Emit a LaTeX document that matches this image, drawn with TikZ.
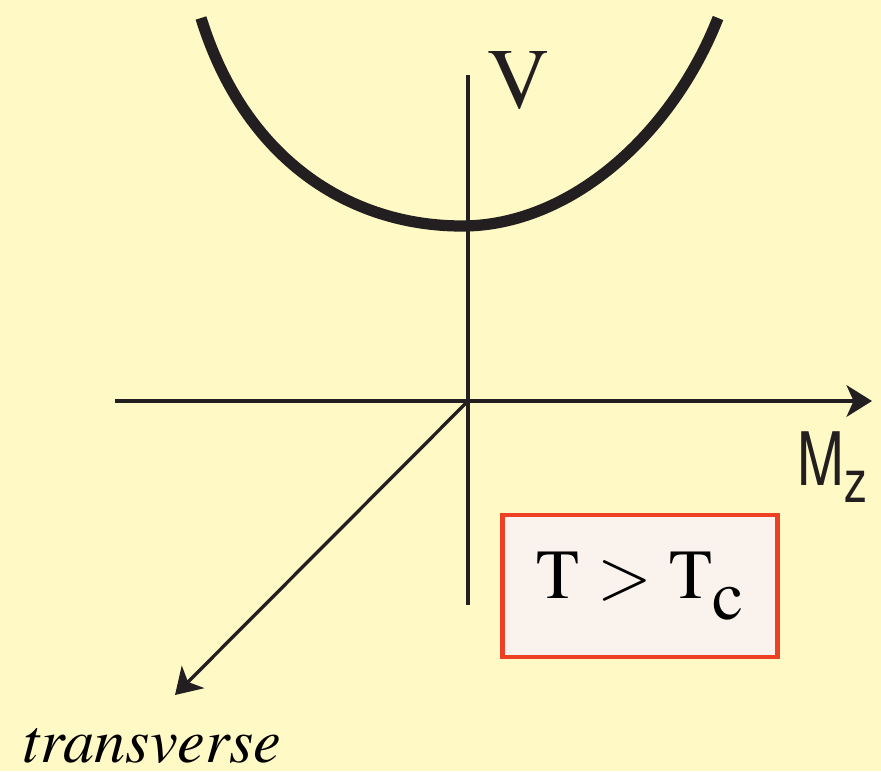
\documentclass[tikz,border=0pt]{standalone}
\usepackage[T1]{fontenc}
\usepackage{mathptmx}
\usepackage{helvet}
\usetikzlibrary{arrows.meta}
\definecolor{bgyellow}{RGB}{255,250,197}
\definecolor{boxfill}{RGB}{250,242,236}
\definecolor{boxred}{RGB}{238,64,36}
\definecolor{ink}{RGB}{35,31,32}
\begin{document}
\begin{tikzpicture}[x=0.02cm, y=-0.02cm, axis/.style={draw=ink, line width=1.9pt}, tip/.style={-{Stealth[length=14.5pt, width=18pt, inset=4pt]}}]
\fill[bgyellow] (0,0) rectangle (881,771);
\useasboundingbox (0,0) rectangle (881,771);
\coordinate (o) at (468,401);
\coordinate (vtop) at (468,75);
\coordinate (vbot) at (468,605);
\coordinate (xl) at (115,401);
\coordinate (xr) at (872,401);
\coordinate (tr) at (175,695);
\draw[axis] (vtop)--(vbot);
\draw[axis, tip] (xl)--(xr);
\draw[axis, tip] (o)--(tr);
% potential well
\coordinate (wl) at (201,18);
\coordinate (wmin) at (462,226);
\coordinate (wr) at (718,18);
\draw[ink, line width=6.4pt] (wl) .. controls (245,160) and (350,226) .. (wmin) .. controls (570,226) and (672,135) .. (wr);
\node[anchor=base west, inner sep=0, text=ink, font=\rmfamily\fontsize{49}{49}\selectfont] (vlab) at (487,108) {V};
\node[anchor=base west, inner sep=0, text=ink, font=\sffamily\fontsize{42}{42}\selectfont] (mlab) at (797,485) {\scalebox{0.76}[1]{M\raisebox{-0.34cm}{\fontsize{34}{34}\selectfont z}}};
\node[anchor=base, inner sep=0, font=\itshape\fontsize{35.5}{35.5}\selectfont] (tlab) at (152,762) {transverse};
\node[draw=boxred, fill=boxfill, line width=2.8pt, minimum width=275*0.02cm, minimum height=142*0.02cm, inner sep=0, font=\fontsize{40}{40}\selectfont] (cond) at (640,586) {T $>$ T\raisebox{-0.42cm}{c}};
\end{tikzpicture}
\end{document}
